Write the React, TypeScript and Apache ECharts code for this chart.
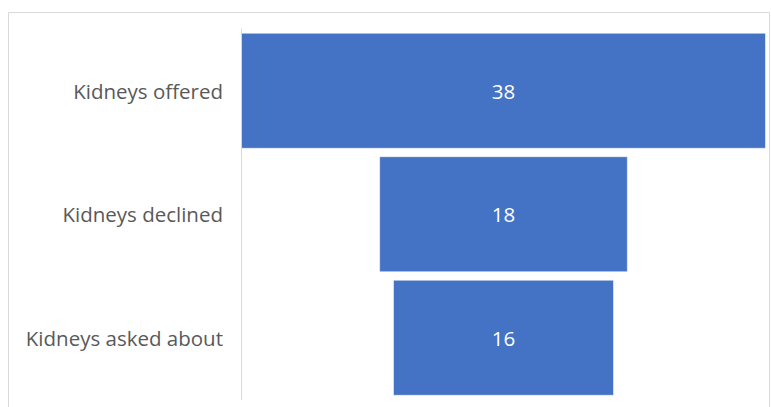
import React, { useEffect, useRef } from "react";
import * as echarts from "echarts";

const categories = ["Kidneys offered", "Kidneys declined", "Kidneys asked about"];
const values = [38, 18, 16];
const maxValue = 38;

export default function App() {
  const ref = useRef<HTMLDivElement>(null);
  useEffect(() => {
    if (!ref.current) return;
    const chart = echarts.init(ref.current, null, { renderer: "svg" });
    const offsets = values.map((v) => (maxValue - v) / 2);
    chart.setOption({
      animation: false,
      backgroundColor: "#ffffff",
      graphic: [
        {
          type: "rect",
          shape: { x: 8.5, y: 12.5, width: 761, height: 430 },
          style: { fill: "none", stroke: "#d9d9d9", lineWidth: 1 },
          silent: true,
          z: 0,
        },
      ],
      grid: { left: 241, right: 5, top: 29, bottom: 7.5 },
      xAxis: {
        type: "value",
        min: 0,
        max: maxValue,
        show: false,
      },
      yAxis: {
        type: "category",
        data: categories,
        inverse: true,
        axisLine: { show: true, lineStyle: { color: "#d9d9d9", width: 1 } },
        axisTick: { show: false },
        axisLabel: {
          color: "#595959",
          fontSize: 20.5,
          fontFamily: "Open Sans",
          margin: 18,
        },
      },
      series: [
        {
          type: "bar",
          stack: "funnel",
          data: offsets,
          itemStyle: { color: "transparent" },
          barCategoryGap: "6%",
          silent: true,
        },
        {
          type: "bar",
          stack: "funnel",
          data: values,
          barCategoryGap: "6%",
          itemStyle: {
            color: "#4472C4",
            borderColor: "rgba(255,255,255,0.55)",
            borderWidth: 1,
          },
          label: {
            show: true,
            position: "inside",
            color: "#ffffff",
            fontSize: 20.5,
            fontFamily: "Open Sans",
          },
        },
      ],
    });
    return () => chart.dispose();
  }, []);
  return (
    <div
      ref={ref}
      style={{ position: "fixed", left: 0, top: 0, width: 771, height: 407 }}
    />
  );
}
